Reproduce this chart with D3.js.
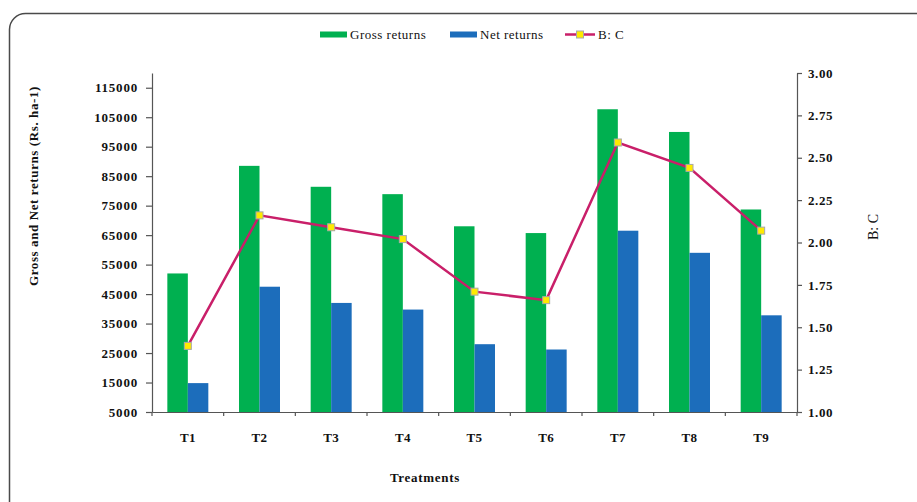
<!DOCTYPE html>
<html><head><meta charset="utf-8">
<script src="https://cdn.jsdelivr.net/npm/d3@7"></script>
<style>
html,body{margin:0;padding:0;background:#fff;}
svg{display:block;}
</style></head>
<body>
<script>
const categories = ["T1","T2","T3","T4","T5","T6","T7","T8","T9"];
const grossReturns = [52000, 88500, 81400, 78900, 68000, 65700, 107700, 100000, 73700];
const netReturns = [14800, 47500, 42000, 39750, 28000, 26200, 66500, 59000, 37800];
const bcRatio = [1.39, 2.16, 2.09, 2.02, 1.71, 1.66, 2.59, 2.44, 2.07];
const leftTicks = [5000,15000,25000,35000,45000,55000,65000,75000,85000,95000,105000,115000];
const rightTicks = [1.00,1.25,1.50,1.75,2.00,2.25,2.50,2.75,3.00];
const seriesNames = ["Gross returns","Net returns","B: C"];

const FONT = "'Liberation Serif', 'Tinos', 'Times New Roman', 'DejaVu Serif', serif";
const W = 917, H = 502;
const svg = d3.select("body").append("svg").attr("width", W).attr("height", H)
  .style("font-family", FONT);

// frame
svg.append("rect").attr("x", 9.5).attr("y", 13.5).attr("width", 960).attr("height", 560)
  .attr("rx", 16).attr("fill", "none").attr("stroke", "#4a4a4a").attr("stroke-width", 1.5);

const x0 = 152, x1 = 797, yT = 73, yB = 412;
const x = d3.scaleBand().domain(categories).range([x0, x1]).padding(0);
const yL = d3.scaleLinear().domain([5000, 120000]).range([yB, yT]);
const yR = d3.scaleLinear().domain([1, 3]).range([yB, yT]);
const bw = x.bandwidth() * 0.286;

const colG = "#00b050", colN = "#1c6dbb", colL = "#c91f69", colM = "#ffea00";

// bars
svg.append("g").selectAll("rect").data(categories).join("rect")
  .attr("x", d => x(d) + x.bandwidth()/2 - bw)
  .attr("y", (d,i) => yL(grossReturns[i]))
  .attr("width", bw)
  .attr("height", (d,i) => yB - yL(grossReturns[i]))
  .attr("fill", colG);
svg.append("g").selectAll("rect").data(categories).join("rect")
  .attr("x", d => x(d) + x.bandwidth()/2)
  .attr("y", (d,i) => yL(netReturns[i]))
  .attr("width", bw)
  .attr("height", (d,i) => yB - yL(netReturns[i]))
  .attr("fill", colN);

// axes
const axL = svg.append("g").attr("transform", `translate(${x0},0)`)
  .call(d3.axisLeft(yL).tickValues(leftTicks).tickSize(6).tickSizeOuter(0).tickPadding(8).tickFormat(d3.format("d")));
const axR = svg.append("g").attr("transform", `translate(${x1},0)`)
  .call(d3.axisRight(yR).tickValues(rightTicks).tickSize(5).tickSizeOuter(0).tickPadding(6).tickFormat(d3.format(".2f")));
const axB = svg.append("g").attr("transform", `translate(0,${yB})`)
  .call(d3.axisBottom(x).tickSize(0).tickSizeOuter(0).tickPadding(21));
// band boundary ticks
const bounds = categories.map(d => x(d)).concat([x1]);
svg.append("g").selectAll("line").data(bounds).join("line")
  .attr("x1", d => d).attr("x2", d => d).attr("y1", yB).attr("y2", yB + 4)
  .attr("stroke", "#555").attr("stroke-width", 1.2);

[axL, axR, axB].forEach(a => {
  a.attr("font-family", null).attr("font-size", null);
  a.selectAll("path.domain").attr("stroke", "#555").attr("stroke-width", 1.2);
  a.selectAll(".tick line").attr("stroke", "#555").attr("stroke-width", 1.2);
  a.selectAll("text").style("font-family", FONT).attr("font-weight", "bold")
    .attr("font-size", 13).attr("fill", "#111");
});
axL.selectAll("text").attr("letter-spacing", "0.8px");
axR.selectAll("text").attr("letter-spacing", "0.6px");
axB.selectAll("text").attr("letter-spacing", "0.3px");

// line
const line = d3.line().x((d,i) => x(categories[i]) + x.bandwidth()/2).y(d => yR(d));
svg.append("path").datum(bcRatio).attr("d", line).attr("fill", "none")
  .attr("stroke", colL).attr("stroke-width", 2.5);
svg.append("g").selectAll("rect").data(bcRatio).join("rect")
  .attr("x", (d,i) => x(categories[i]) + x.bandwidth()/2 - 3.5)
  .attr("y", d => yR(d) - 3.5)
  .attr("width", 7).attr("height", 7)
  .attr("fill", colM).attr("stroke", "#a8a8a8").attr("stroke-width", 1);

// titles
svg.append("text").attr("transform", "translate(38,186) rotate(-90)")
  .attr("text-anchor", "middle").attr("font-weight", "bold").attr("font-size", 13).attr("fill", "#111")
  .attr("letter-spacing", "0.6px")
  .text("Gross and Net returns (Rs. ha-1)");
svg.append("text").attr("transform", "translate(878,227) rotate(-90)")
  .attr("text-anchor", "middle").attr("font-size", 14).attr("fill", "#111")
  .text(seriesNames[2]);
svg.append("text").attr("x", 425).attr("y", 482)
  .attr("text-anchor", "middle").attr("font-weight", "bold").attr("font-size", 13).attr("fill", "#111")
  .attr("letter-spacing", "0.7px")
  .text("Treatments");

// legend
const lg = svg.append("g").attr("fill", "#111");
lg.append("rect").attr("x", 320).attr("y", 31.5).attr("width", 27).attr("height", 6).attr("fill", colG);
lg.append("text").attr("x", 350).attr("y", 39).attr("font-size", 13).attr("letter-spacing", "0.5px").text(seriesNames[0]);
lg.append("rect").attr("x", 450).attr("y", 31.5).attr("width", 27).attr("height", 6).attr("fill", colN);
lg.append("text").attr("x", 480).attr("y", 39).attr("font-size", 13).attr("letter-spacing", "0.5px").text(seriesNames[1]);
lg.append("line").attr("x1", 565).attr("x2", 595).attr("y1", 34.5).attr("y2", 34.5)
  .attr("stroke", colL).attr("stroke-width", 2.5);
lg.append("rect").attr("x", 576.5).attr("y", 31).attr("width", 7).attr("height", 7)
  .attr("fill", colM).attr("stroke", "#a8a8a8").attr("stroke-width", 1);
lg.append("text").attr("x", 598).attr("y", 39).attr("font-size", 13).attr("letter-spacing", "0.5px").text(seriesNames[2]);
</script>
</body></html>
